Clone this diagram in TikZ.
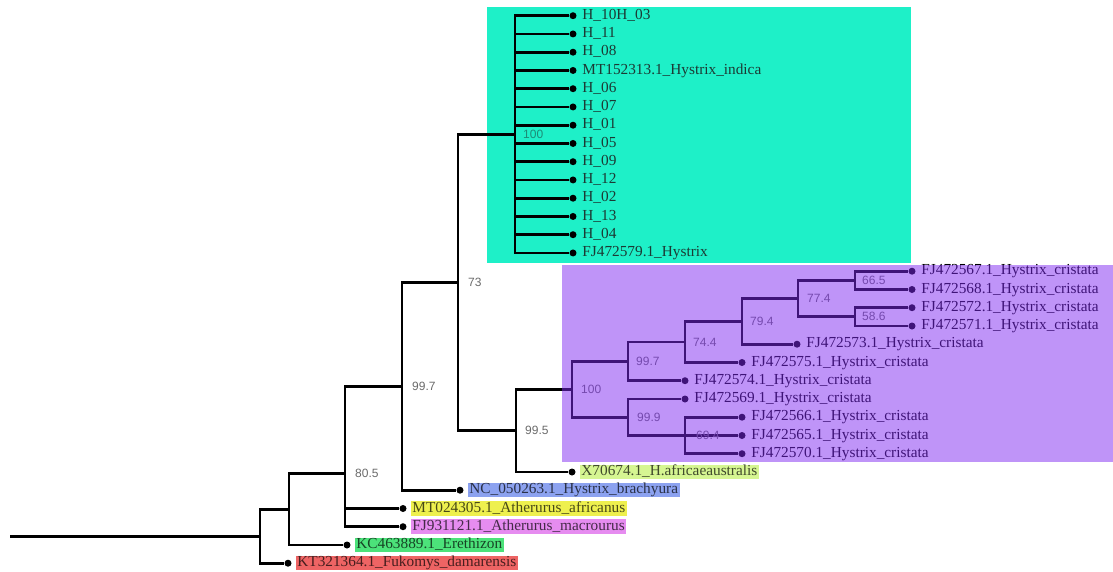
\documentclass[tikz,border=0pt]{standalone}
\usepackage{fontspec}
\setmainfont{Liberation Serif}
\newfontfamily\bootfont{Liberation Sans}
\usetikzlibrary{positioning}

\definecolor{indicabox}{HTML}{1EF0C8}
\definecolor{indtext}{HTML}{1C3A34}
\definecolor{cristatabox}{HTML}{7F29F1}
\definecolor{afrgreen}{HTML}{D6F692}
\definecolor{brablue}{HTML}{8CA2F0}
\definecolor{atyellow}{HTML}{EEF04E}
\definecolor{atpink}{HTML}{E68CF0}
\definecolor{eregreen}{HTML}{4CE27A}
\definecolor{fukred}{HTML}{EE6464}
\definecolor{bootgray}{HTML}{6A6A6A}

\tikzset{
	branch/.style={line width=2.8pt},
	tip/.style={circle,fill,inner sep=0pt,minimum size=7pt},
	taxon/.style={inner xsep=1.5pt,inner ysep=0.5pt,text height=10.5pt,text depth=3pt,
		font=\fontsize{15.3}{16}\selectfont},
	marked/.style={taxon,fill=#1,text=#1!30!black},
	boot/.style={anchor=west,inner sep=0pt,text=bootgray,font=\bootfont\fontsize{12}{12}\selectfont}
}

\begin{document}
\begin{tikzpicture}[x=1pt,y=-1pt]
	\useasboundingbox (0,0) rectangle (1113,571);
	% H. indica box
	\fill[indicabox] (487,7) rectangle (911,263);
	
	% internal nodes
	\coordinate (stem) at (10,536.3);
	\coordinate (root) at (260,536.3);
	\coordinate (n1) at (289,509.4);
	\coordinate (n805) at (345,473.8);
	\coordinate (n997) at (402,386.3);
	\coordinate (n73) at (458,282.5);
	\coordinate (n100) at (515,134.3);
	\coordinate (n995) at (516,430.6);
	\coordinate (p100) at (572,389.3);
	\coordinate (p997) at (628,361.3);
	\coordinate (p999) at (628,417.2);
	\coordinate (p744) at (685,341.9);
	\coordinate (p694) at (685,435.5);
	\coordinate (p794) at (742,321.4);
	\coordinate (p774) at (798,298.6);
	\coordinate (p665) at (855,280.3);
	\coordinate (p586) at (855,316.8);
	
	% H. indica clade
	\foreach \lab [count=\i from 0] in {H\_10H\_03,H\_11,H\_08,MT152313.1\_Hystrix\_indica,H\_06,H\_07,H\_01,H\_05,H\_09,H\_12,H\_02,H\_13,H\_04,FJ472579.1\_Hystrix}{
		\node[tip] (h\i) at (573,{15.7+18.25*\i}) {};
		\node[taxon,text=indtext,right=4pt of h\i] (hl\i) {\lab};
		\draw[branch] (n100) |- (h\i);
	}
	
	% H. cristata clade
	\node[tip] (c67) at (912,271.2) {};
	\node[tip] (c68) at (912,289.5) {};
	\node[tip] (c72) at (912,307.7) {};
	\node[tip] (c71) at (912,326.0) {};
	\node[tip] (c73) at (797,344.2) {};
	\node[tip] (c75) at (742,362.5) {};
	\node[tip] (c74) at (685,380.7) {};
	\node[tip] (c69) at (685,399.0) {};
	\node[tip] (c66) at (742,417.2) {};
	\node[tip] (c65) at (742,435.5) {};
	\node[tip] (c70) at (742,453.7) {};
	\node[taxon,right=4pt of c67] (cl67) {FJ472567.1\_Hystrix\_cristata};
	\node[taxon,right=4pt of c68] (cl68) {FJ472568.1\_Hystrix\_cristata};
	\node[taxon,right=4pt of c72] (cl72) {FJ472572.1\_Hystrix\_cristata};
	\node[taxon,right=4pt of c71] (cl71) {FJ472571.1\_Hystrix\_cristata};
	\node[taxon,right=4pt of c73] (cl73) {FJ472573.1\_Hystrix\_cristata};
	\node[taxon,right=4pt of c75] (cl75) {FJ472575.1\_Hystrix\_cristata};
	\node[taxon,right=4pt of c74] (cl74) {FJ472574.1\_Hystrix\_cristata};
	\node[taxon,right=4pt of c69] (cl69) {FJ472569.1\_Hystrix\_cristata};
	\node[taxon,right=4pt of c66] (cl66) {FJ472566.1\_Hystrix\_cristata};
	\node[taxon,right=4pt of c65] (cl65) {FJ472565.1\_Hystrix\_cristata};
	\node[taxon,right=4pt of c70] (cl70) {FJ472570.1\_Hystrix\_cristata};
	
	% outgroups
	\node[tip] (x70) at (572,472.0) {};
	\node[tip] (nc) at (460,490.2) {};
	\node[tip] (mt) at (403,508.5) {};
	\node[tip] (fj) at (403,526.7) {};
	\node[tip] (kc) at (347,545.0) {};
	\node[tip] (kt) at (288,563.2) {};
	\node[marked=afrgreen,right=4pt of x70] (xl) {X70674.1\_H.africaeaustralis};
	\node[marked=brablue,right=4pt of nc] (ncl) {NC\_050263.1\_Hystrix\_brachyura};
	\node[marked=atyellow,right=4pt of mt] (mtl) {MT024305.1\_Atherurus\_africanus};
	\node[marked=atpink,right=4pt of fj] (fjl) {FJ931121.1\_Atherurus\_macrourus};
	\node[marked=eregreen,right=4pt of kc] (kcl) {KC463889.1\_Erethizon};
	\node[marked=fukred,right=4pt of kt] (ktl) {KT321364.1\_Fukomys\_damarensis};
	
	% branches
	\draw[branch] (stem) -- (root);
	\draw[branch] (root) |- (n1);
	\draw[branch] (root) |- (kt);
	\draw[branch] (n1) |- (n805);
	\draw[branch] (n1) |- (kc);
	\draw[branch] (n805) |- (n997);
	\draw[branch] (n805) |- (mt);
	\draw[branch] (n805) |- (fj);
	\draw[branch] (n997) |- (n73);
	\draw[branch] (n997) |- (nc);
	\draw[branch] (n73) |- (n100);
	\draw[branch] (n73) |- (n995);
	\draw[branch] (n995) |- (p100);
	\draw[branch] (n995) |- (x70);
	\draw[branch] (p100) |- (p997);
	\draw[branch] (p100) |- (p999);
	\draw[branch] (p997) |- (p744);
	\draw[branch] (p997) |- (c74);
	\draw[branch] (p744) |- (p794);
	\draw[branch] (p744) |- (c75);
	\draw[branch] (p794) |- (p774);
	\draw[branch] (p794) |- (c73);
	\draw[branch] (p774) |- (p665);
	\draw[branch] (p774) |- (p586);
	\draw[branch] (p665) |- (c67);
	\draw[branch] (p665) |- (c68);
	\draw[branch] (p586) |- (c72);
	\draw[branch] (p586) |- (c71);
	\draw[branch] (p999) |- (c69);
	\draw[branch] (p999) |- (p694);
	\draw[branch] (p694) |- (c66);
	\draw[branch] (p694) |- (c65);
	\draw[branch] (p694) |- (c70);
	
	% bootstrap values
	\node[boot] (b805) at ([xshift=10pt]n805) {80.5};
	\node[boot] (b997) at ([xshift=10pt]n997) {99.7};
	\node[boot] (b73) at ([xshift=10pt]n73) {73};
	\node[boot,text=indtext!55!indicabox] (b100) at ([xshift=8pt]n100) {100};
	\node[boot] (b995) at ([xshift=9pt]n995) {99.5};
	\node[boot] (bp100) at ([xshift=9pt]p100) {100};
	\node[boot] (bp997) at ([xshift=8pt]p997) {99.7};
	\node[boot] (bp999) at ([xshift=9pt]p999) {99.9};
	\node[boot] (bp744) at ([xshift=8pt]p744) {74.4};
	\node[boot] (bp794) at ([xshift=8pt]p794) {79.4};
	\node[boot] (bp774) at ([xshift=9pt]p774) {77.4};
	\node[boot] (bp665) at ([xshift=7pt]p665) {66.5};
	\node[boot] (bp586) at ([xshift=7pt]p586) {58.6};
	\node[boot] (bp694) at ([xshift=11pt]p694) {69.4};
	
	% H. cristata box, laid over the clade
	\fill[cristatabox,fill opacity=0.5] (562,265) rectangle (1113,462);
\end{tikzpicture}
\end{document}
